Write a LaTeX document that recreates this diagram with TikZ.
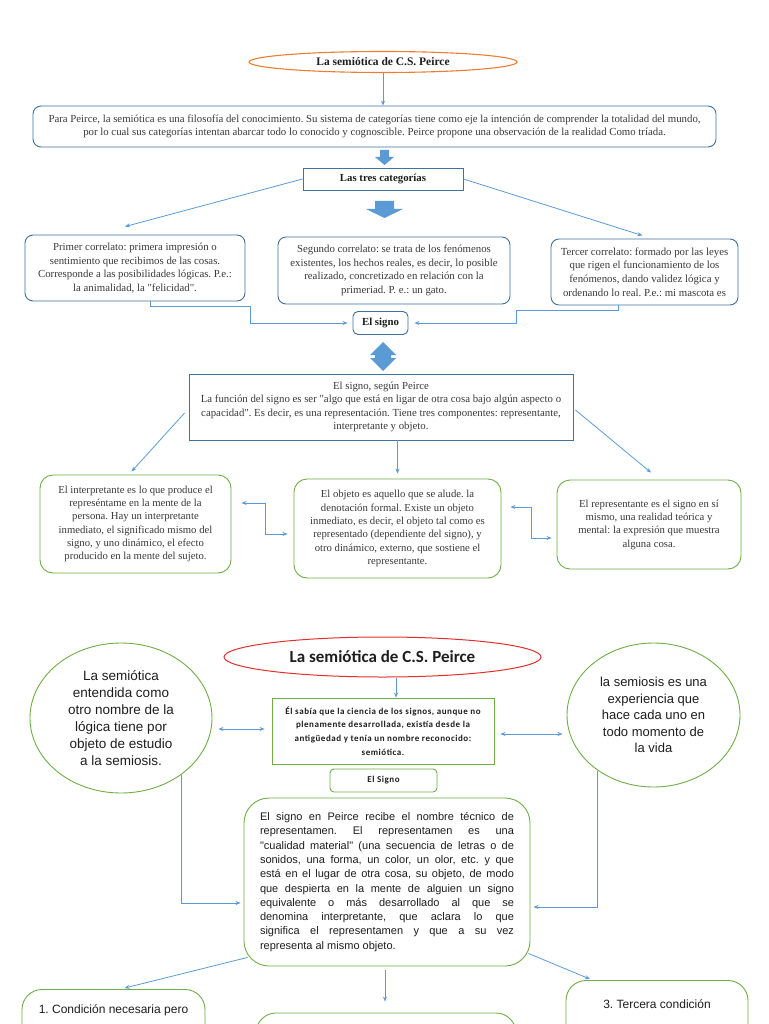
\documentclass[tikz,border=0pt]{standalone}
\usepackage{fontspec}
\setmainfont{Liberation Serif}[Ligatures=TeXOff]
\newfontfamily\arialf{Liberation Sans}[Ligatures=TeXOff]
\newfontfamily\calibf{Carlito}
\newfontfamily\calibsp[LetterSpace=6]{Carlito}
\usetikzlibrary{shapes.geometric,arrows.meta,calc}
\definecolor{ablue}{HTML}{5B9BD5}
\definecolor{bblue}{HTML}{41719C}
\definecolor{gline}{HTML}{70AD47}
\definecolor{oline}{HTML}{ED7D31}
\definecolor{rline}{HTML}{E0302C}
\definecolor{txtA}{HTML}{3A3A3A}
\definecolor{txtB}{HTML}{1E1E1E}
\tikzset{
  arr/.style={draw=ablue, line width=0.8pt, -{Stealth[length=5pt,width=4pt]}},
  darr/.style={draw=ablue, line width=0.8pt, {Stealth[length=5pt,width=4pt]}-{Stealth[length=5pt,width=4pt]}},
  tbox/.style={draw=bblue, line width=0.9pt, rounded corners=8pt, align=center, text=txtA, inner sep=0pt,
    font=\fontsize{10.8}{13.6}\selectfont},
  gbox/.style={draw=gline, line width=0.9pt, rounded corners=13pt, align=center, text=txtA, inner sep=0pt,
    font=\fontsize{10.7}{13.3}\selectfont},
  ell/.style={ellipse, line width=0.9pt, inner sep=0pt, align=center},
  blockarr/.style={fill=ablue, draw=none},
}
\begin{document}
\frenchspacing
\begin{tikzpicture}[x=1pt,y=-1pt]
\clip (0,0) rectangle (768,1024);
\fill[white] (0,0) rectangle (768,1024);

% ---------- first diagram ----------
\node[ell, draw=oline, line width=1.1pt, minimum width=268, minimum height=21, text=txtB,
      font=\bfseries\fontsize{11.5}{12}\selectfont] (title1) at (383,62) {La semiótica de C.S. Peirce};

\node[tbox, minimum width=683, minimum height=41] (para) at (374.5,126.5)
 {Para Peirce, la semiótica es una filosofía del conocimiento. Su sistema de categorías tiene como eje la intención de comprender la totalidad del mundo,\\
  por lo cual sus categorías intentan abarcar todo lo conocido y cognoscible. Peirce propone una observación de la realidad Como tríada.};

\draw[arr] (title1.south) -- (title1.south |- para.north);

\fill[blockarr] (380,150) -- (389,150) -- (389,157) -- (394,157) -- (384.5,165) -- (375,157) -- (380,157) -- cycle;

\node[draw=bblue, line width=0.9pt, minimum width=160, minimum height=22, inner sep=0pt, text=txtB,
      font=\bfseries\fontsize{10.8}{12}\selectfont] (cats) at (383,179) {Las tres categorías};

\fill[blockarr] (375,201) -- (394,201) -- (394,209) -- (403,209) -- (384.5,218) -- (366,209) -- (375,209) -- cycle;

\node[tbox, minimum width=220, minimum height=66] (prim) at (135,268)
 {Primer correlato: primera impresión o\\sentimiento que recibimos de las cosas.\\Corresponde a las posibilidades lógicas. P.e.:\\la animalidad, la "felicidad".};
\node[tbox, minimum width=232, minimum height=67] (seg) at (394,270.5)
 {Segundo correlato: se trata de los fenómenos\\existentes, los hechos reales, es decir, lo posible\\realizado, concretizado en relación con la\\primeriad. P. e.: un gato.};
\node[tbox, minimum width=187, minimum height=66] (ter) at (644.5,272)
 {Tercer correlato: formado por las leyes\\que rigen el funcionamiento de los\\fenómenos, dando validez lógica y\\ordenando lo real. P.e.: mi mascota es};

\draw[arr] (cats.west) -- ($(prim.north)+(-10,-8)$);
\draw[arr] (cats.east) -- ($(ter.north)+(-2,-3)$);

\node[tbox, rounded corners=5pt, minimum width=55, minimum height=23, text=txtB,
      font=\bfseries\fontsize{10.8}{12}\selectfont] (signo) at (380.5,323) {El signo};

\coordinate (j1) at (250,306);
\coordinate (j2) at (516,310);
\draw[arr, shorten >=5pt] ($(prim.south)+(15,0)$) |- (j1) |- (signo.west);
\draw[arr, shorten >=6pt] ($(ter.south)+(-26,0)$) |- (j2) |- (signo.east);

\fill[blockarr] (383,342) -- (396,355) -- (391,355) -- (391,358) -- (396,358) -- (383,371)
  -- (370,358) -- (375,358) -- (375,355) -- (370,355) -- cycle;

\node[tbox, rounded corners=0pt, minimum width=384, minimum height=66] (segun) at (381,407)
 {El signo, según Peirce\\La función del signo es ser "algo que está en ligar de otra cosa bajo algún aspecto o\\capacidad". Es decir, es una representación. Tiene tres componentes: representante,\\interpretante y objeto.};

\node[gbox, minimum width=191, minimum height=98] (interp) at (135.5,524)
 {El interpretante es lo que produce el\\represéntame en la mente de la\\persona. Hay un interpretante\\inmediato, el significado mismo del\\signo, y uno dinámico, el efecto\\producido en la mente del sujeto.};
\node[gbox, minimum width=207, minimum height=99] (objeto) at (397.5,528.5)
 {El objeto es aquello que se alude. la\\denotación formal. Existe un objeto\\inmediato, es decir, el objeto tal como es\\representado (dependiente del signo), y\\otro dinámico, externo, que sostiene el\\representante.};
\node[gbox, minimum width=184, minimum height=89] (repr) at (649,524.5)
 {El representante es el signo en sí\\mismo, una realidad teórica y\\mental: la expresión que muestra\\alguna cosa.};

\draw[arr] ($(segun.west)+(-4,6)$) -- ($(interp.north)+(-4,-3)$);
\draw[arr] (objeto.north |- segun.south) -- ($(objeto.north)+(0,-5)$);
\draw[arr] ($(segun.east)+(2,3)$) -- ($(repr.north)+(2,-7)$);

\coordinate (e1a) at (265,503);
\coordinate (e1b) at (265,534);
\draw[darr, shorten <=10pt, shorten >=6pt] (interp.east |- e1a) -- (e1a) -- (e1b) -- (objeto.west |- e1b);
\coordinate (e2a) at (531,507);
\coordinate (e2b) at (531,538);
\draw[darr, shorten <=9pt, shorten >=5pt] (objeto.east |- e2a) -- (e2a) -- (e2b) -- (repr.west |- e2b);

% ---------- second diagram ----------
\node[ell, draw=rline, line width=1pt, minimum width=317, minimum height=40, text=txtB,
      font=\calibf\bfseries\fontsize{17}{18}\selectfont] (title2) at (382.5,657) {La semiótica de C.S. Peirce};

\node[draw=gline, line width=0.9pt, minimum width=222, minimum height=66, inner sep=0pt, align=center, text=txtB,
      font=\calibsp\bfseries\fontsize{9}{13.6}\selectfont] (sabia) at (383,731)
 {Él sabía que la ciencia de los signos, aunque no\\plenamente desarrollada, existía desde la\\antigüedad y tenía un nombre reconocido:\\semiótica.};

\draw[arr] ($(title2.south)+(13.5,0)$) -- ($(sabia.north)+(13,0)$);

\node[ell, draw=gline, minimum width=182, minimum height=150, text=txtB,
      font=\arialf\fontsize{13.5}{17}\selectfont] (lell) at (121,718)
 {La semiótica\\entendida como\\otro nombre de la\\lógica tiene por\\objeto de estudio\\a la semiosis.};
\node[ell, draw=gline, minimum width=173, minimum height=144, text=txtB,
      font=\arialf\fontsize{13}{16.5}\selectfont] (rell) at (653.5,715)
 {la semiosis es una\\experiencia que\\hace cada uno en\\todo momento de\\la vida};

\draw[darr] ($(lell.east)+(6,11)$) -- ($(sabia.west)+(-7,-2)$);
\draw[darr] ($(sabia.east)+(6,3)$) -- ($(rell.west)+(-4,19)$);

\node[gbox, rounded corners=4pt, minimum width=107, minimum height=23, text=txtB,
      font=\calibsp\bfseries\fontsize{9}{10}\selectfont] (signo2) at (383.5,780.5) {El Signo};

\node[gbox, rounded corners=25pt, minimum width=286, minimum height=168, text=txtB, align=justify,
      text width=254, font=\arialf\fontsize{11}{14.3}\selectfont] (big) at (387,882)
 {\tolerance=10000\hbadness=10000 El signo en Peirce recibe el nombre técnico de\linebreak
  representamen. El representamen es una\linebreak
  "cualidad material" (una secuencia de letras o de\linebreak
  sonidos, una forma, un color, un olor, etc. y que\linebreak
  está en el lugar de otra cosa, su objeto, de modo\linebreak
  que despierta en la mente de alguien un signo\linebreak
  equivalente o más desarrollado al que se\linebreak
  denomina interpretante, que aclara lo que\linebreak
  significa el representamen y que a su vez\linebreak
  representa al mismo objeto.};

\draw[arr] (lell.-43) |- ($(big.west)+(-3,21)$);
\draw[arr] (rell.-135.5) |- ($(big.east)+(3,25)$);

\node[gbox, rounded corners=20pt, minimum width=183, inner xsep=0pt, inner ysep=15pt, text height=9pt, text depth=70pt,
      text=txtB, font=\arialf\fontsize{12}{14}\selectfont] (b1) at (113.5,1044) {1. Condición necesaria pero};
\node[gbox, rounded corners=20pt, minimum width=260, minimum height=90] (mid) at (386,1058) {};
\node[gbox, rounded corners=20pt, minimum width=182, inner xsep=0pt, inner ysep=19pt, text height=9pt, text depth=70pt,
      text=txtB, font=\arialf\fontsize{12}{14}\selectfont] (b3) at (657,1039) {3. Tercera condición};

\draw[arr] ($(big.south west)+(4,-9)$) -- ($(b1.north)+(11,-1)$);
\draw[arr] ($(big.south)+(-2,4)$) -- ($(mid.north)+(-1,-11)$);
\draw[arr] ($(big.south east)+(-2,-13)$) -- ($(b3.north)+(-67,-1)$);
\end{tikzpicture}
\end{document}
